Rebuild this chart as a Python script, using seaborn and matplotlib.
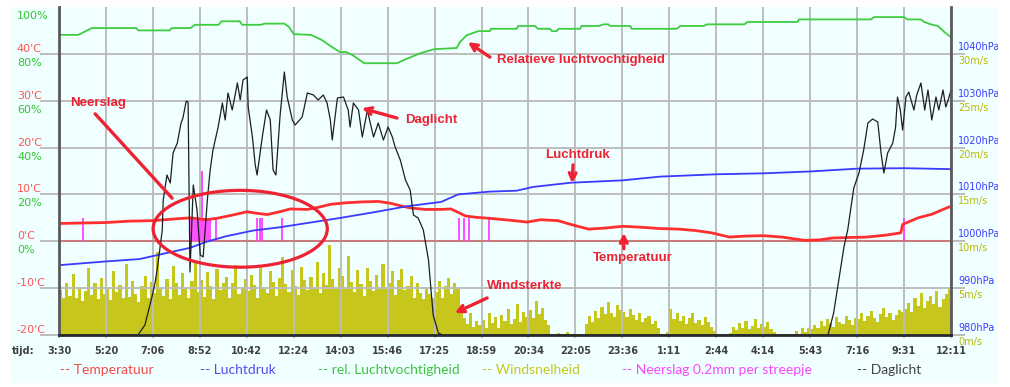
import numpy as np
import matplotlib
matplotlib.use("Agg")
import matplotlib.pyplot as plt
import matplotlib.transforms as mtransforms
from matplotlib.patches import Ellipse, Rectangle
import seaborn as sns

# ---------------- data ----------------
time_labels = ['3:30', '5:20', '7:06', '8:52', '10:42', '12:24', '14:03', '15:46', '17:25', '18:59',
               '20:34', '22:05', '23:36', '1:11', '2:44', '4:14', '5:43', '7:16', '9:31', '12:11']

temp_t = [0, 0.5, 1.0, 1.5, 2.0, 2.5, 2.8, 3.14, 3.36, 3.7, 4.0, 4.2, 4.43, 4.7, 4.93, 5.29, 5.5, 5.79,
          6.1, 6.43, 6.8, 7.07, 7.3, 7.5, 7.8, 8.14, 8.35, 8.66, 8.9, 9.17, 9.6, 9.97, 10.26, 10.63,
          10.9, 11.28, 11.6, 12.01, 12.4, 12.82, 13.2, 13.55, 13.9, 14.28, 14.6, 15.0, 15.4, 15.88,
          16.2, 16.47, 16.8, 17.2, 17.6, 17.93, 17.97, 18.3, 18.6, 18.95, 19.0]
temp_c = [3.8, 3.9, 4.0, 4.3, 4.4, 4.8, 5.0, 4.6, 4.9, 5.6, 6.3, 6.0, 5.7, 6.3, 6.9, 6.8, 7.2, 7.9,
          8.2, 8.4, 8.5, 8.1, 7.5, 7.1, 6.8, 6.8, 6.9, 5.4, 5.1, 4.9, 4.5, 4.1, 4.6, 4.4,
          3.6, 2.6, 2.8, 3.2, 3.0, 2.7, 2.6, 2.3, 1.8, 0.9, 1.1, 1.2, 0.9, 0.2,
          0.3, 0.7, 0.8, 0.9, 1.3, 1.8, 3.6, 5.0, 5.8, 7.3, 7.4]

pres_t = [0, 1, 1.71, 2.79, 3.14, 3.57, 4.14, 4.71, 5.29, 6.0, 6.71, 7.43, 8.14, 8.5, 9.17, 9.75,
          10.1, 10.9, 12.0, 12.8, 14.0, 15.0, 16.0, 17.0, 18.0, 19.0]
pres_hpa = [994.9, 995.7, 996.2, 998.6, 999.9, 1001.1, 1002.3, 1003.0, 1003.9, 1005.0, 1006.2,
            1007.5, 1008.4, 1010.0, 1010.6, 1010.8, 1011.6, 1012.5, 1013.0, 1013.8, 1014.3,
            1014.5, 1014.9, 1015.5, 1015.6, 1015.4]

hum_t = [0, 0.41, 0.55, 0.7, 1.65, 1.69, 2.36, 2.4, 2.8, 2.9, 3.4, 3.46, 3.85, 3.9, 4.3, 4.38,
         4.8, 4.9, 5.0, 5.37, 5.59, 5.8, 6.0, 6.1, 6.25, 6.5, 7.2, 7.43, 7.7, 8.0, 8.47, 8.54,
         8.68, 8.82, 8.93, 9.18, 9.2, 9.75, 9.78, 10.14, 10.2, 10.46, 10.5, 10.6, 10.64, 11.1,
         11.13, 11.5, 11.6, 11.7, 11.74, 12.17, 12.2, 13.16, 13.23, 13.73, 13.8, 14.6, 14.66,
         15.73, 15.76, 17.3, 17.36, 18.0, 18.07, 18.36, 18.43, 18.57, 18.72, 18.86, 19.0]
hum_pct = [88.1, 88.1, 89.5, 91.0, 91.0, 90.0, 90.0, 91.0, 91.0, 92.4, 92.4, 93.9, 93.9, 92.4,
           92.4, 92.9, 92.9, 91.5, 88.4, 88.1, 86.0, 83.1, 80.6, 80.9, 79.5, 76.0, 76.0, 78.1,
           80.3, 82.0, 82.5, 85.0, 87.9, 88.9, 89.7, 89.7, 90.7, 90.7, 91.9, 91.9, 90.7, 90.7,
           89.7, 89.7, 90.7, 90.7, 91.9, 91.9, 92.6, 92.6, 91.9, 91.9, 90.7, 90.7, 91.9, 91.9,
           92.6, 92.6, 93.6, 93.6, 94.7, 94.7, 95.7, 95.7, 94.7, 94.7, 93.6, 92.6, 91.9, 89.3, 87.1]

day_t = [0, 1.68, 1.83, 1.98, 2.05, 2.11, 2.20, 2.22, 2.30, 2.37, 2.43, 2.52, 2.60, 2.64, 2.71,
         2.75, 2.79, 2.86, 2.94, 3.01, 3.07, 3.16, 3.22, 3.28, 3.39, 3.48, 3.54, 3.60, 3.69, 3.80,
         3.86, 3.92, 4.01, 4.03, 4.12, 4.18, 4.22, 4.33, 4.42, 4.50, 4.56, 4.62, 4.71, 4.80, 4.86,
         4.97, 5.03, 5.18, 5.29, 5.42, 5.52, 5.63, 5.71, 5.78, 5.82, 5.93, 6.06, 6.16, 6.20, 6.27,
         6.38, 6.46, 6.57, 6.63, 6.70, 6.80, 6.91, 7.01, 7.10, 7.16, 7.27, 7.38, 7.48, 7.55, 7.65,
         7.76, 7.87, 7.97, 8.08, 8.17, 16.38, 16.50, 16.61, 16.72, 16.80, 16.87, 16.93, 17.04,
         17.14, 17.23, 17.33, 17.44, 17.51, 17.57, 17.65, 17.76, 17.82, 17.86, 17.92, 17.97,
         18.04, 18.10, 18.21, 18.27, 18.36, 18.44, 18.51, 18.59, 18.68, 18.74, 18.83, 18.89,
         18.96, 19.0]
day_val = [0, 0, 10, 38, 53, 72, 105, 135, 160, 152, 182, 192, 212, 217, 234,
           233, 63, 150, 125, 80, 78, 135, 165, 185, 208, 232, 215, 242, 225, 252,
           235, 255, 258, 228, 198, 170, 160, 198, 225, 215, 165, 160, 220, 263, 238,
           215, 210, 218, 242, 240, 235, 240, 232, 215, 195, 237, 238, 225, 208, 232,
           225, 198, 225, 212, 198, 212, 195, 208, 198, 188, 175, 155, 145, 120, 117,
           105, 75, 20, 2, 0, 0, 22, 55, 88, 105, 128, 147, 162,
           185, 212, 216, 213, 182, 162, 182, 192, 208, 238, 225, 205,
           238, 243, 225, 240, 252, 225, 245, 215, 238, 225, 245, 228,
           238, 245]

wind_ms = [
    4.8, 3.9, 5.6, 4.2, 6.5, 4.0, 5.1, 3.6, 4.7, 7.2, 4.3, 5.5, 3.8, 6.1, 4.4,
    5.0, 3.7, 6.8, 4.6, 5.3, 3.9, 7.6, 4.1, 5.8, 4.4, 3.5, 5.2, 6.3, 4.0, 5.7,
    4.5, 8.9, 5.1, 4.2, 6.0, 3.8, 7.4, 5.5, 4.3, 6.6, 5.0, 3.9, 5.8, 7.9, 4.6,
    5.9, 4.1, 6.7, 5.2, 3.8, 7.0, 4.8, 5.5, 6.2, 4.0, 5.6, 7.5, 4.4, 5.1, 6.0,
    4.7, 6.4, 5.3, 3.9, 7.1, 5.0, 4.5, 6.8, 5.7, 4.2, 6.1, 8.3, 5.4, 4.6, 6.9,
    5.2, 4.3, 7.3, 5.9, 4.8, 6.2, 5.0, 7.8, 4.5, 6.6, 5.3, 9.6, 6.0, 4.9, 7.1,
    6.3, 5.1, 8.4, 5.7, 4.6, 6.9, 5.4, 4.2, 7.2, 5.8, 4.7, 6.4, 5.0, 7.6, 4.9,
    5.5, 6.8, 4.3, 5.9, 7.0, 4.8, 5.2, 6.3, 4.0, 5.6, 4.5, 3.8, 5.1, 4.4, 3.9,
    4.6, 5.8, 3.9, 5.2, 6.1, 4.4, 5.5, 5.0, 3.2, 1.8, 1.2, 2.3, 0.9, 1.5, 1.1,
    1.6, 0.8, 2.4, 1.3, 1.9, 0.7, 2.1, 1.5, 2.8, 1.2, 1.7, 3.3, 1.4, 2.5, 1.9,
    2.7, 1.8, 3.6, 2.2, 2.9, 1.6, 1.1, 0.0, 0.0, 0.2, 0.0, 0.0, 0.3, 0.0, 0.0,
    0.0, 0.0, 0.0, 1.2, 2.0, 1.4, 2.6, 1.8, 3.0, 2.2, 3.5, 2.4, 1.9, 3.2, 2.7,
    2.5, 1.9, 2.8, 2.1, 1.6, 2.3, 1.4, 1.8, 2.0, 1.2, 1.5, 0.8, 0.0, 0.0, 0.3,
    2.8, 1.7, 2.3, 1.5, 2.0, 1.2, 1.8, 2.4, 1.3, 1.6, 1.1, 1.9, 1.4, 0.9, 0.4,
    0.0, 0.0, 0.0, 0.0, 0.2, 0.9, 0.5, 1.3, 0.7, 1.5, 0.6, 1.0, 1.7, 0.8, 1.2,
    0.9, 1.4, 0.6, 0.3, 0.0, 0.0, 0.0, 0.0, 0.0, 0.0, 0.4, 0.0, 0.7, 0.3, 0.8,
    0.6, 1.1, 0.8, 1.5, 1.0, 1.7, 1.3, 0.9, 1.9, 1.4, 1.2, 2.0, 1.6, 1.1, 1.8,
    1.7, 2.3, 1.5, 2.0, 2.6, 1.8, 1.4, 2.2, 2.9, 1.9, 2.4, 1.6, 2.1, 2.7, 2.5,
    2.8, 3.4, 2.5, 3.9, 3.1, 4.5, 2.9, 3.6, 4.2, 3.3, 4.7, 3.0, 3.8, 4.4, 5.1,
]

rain_t = [0.51, 2.79, 2.84, 2.88, 2.92, 2.97, 3.01, 3.05, 3.09, 3.14, 3.18, 3.22, 3.35,
          4.22, 4.28, 4.33, 4.75, 8.51, 8.62, 8.73, 9.15, 18.0]
rain_n = [1, 1, 1, 1, 1, 1, 1, 3, 1, 1, 1, 1, 1, 1, 1, 1, 1, 1, 1, 1, 1, 1]

temp_ticks = [-20, -10, 0, 10, 20, 30, 40]
hum_ticks = [0, 20, 40, 60, 80, 100]
pres_ticks = [980, 990, 1000, 1010, 1020, 1030, 1040]
wind_ticks = [0, 5, 10, 15, 20, 25, 30]

legend_items = [("-- Temperatuur", "#f24a4a"), ("-- Luchtdruk", "#4f4ff0"),
                ("-- rel. Luchtvochtigheid", "#3fc43f"), ("-- Windsnelheid", "#c6c620"),
                ("-- Neerslag 0.2mm per streepje", "#ff44ff"), ("-- Daglicht", "#444444")]

# ---------------- style ----------------
W, H, DPI = 1010, 387, 100
BG = "#f0ffff"
GRID = "#bdbdbd"
ANN = "#ee2233"
plt.rcParams["font.family"] = ["DejaVu Sans"]

fig = plt.figure(figsize=(W / DPI, H / DPI), dpi=DPI, facecolor="white")
panel = Rectangle((11 / W, 1 - 383 / H), (998 - 11) / W, (383 - 7) / H,
                  transform=fig.transFigure, facecolor=BG, edgecolor="none", zorder=-10)
fig.patches.append(panel)

rect = [59 / W, 1 - 335 / H, (951 - 59) / W, (335 - 7) / H]
ax_w = fig.add_axes(rect)
ax_w.set_facecolor(BG)
ax_t = ax_w.twinx()
ax_p = ax_w.twinx()
ax_h = ax_w.twinx()
ax_d = ax_w.twinx()
ax_a = ax_w.twinx()
for z, a in enumerate([ax_w, ax_t, ax_p, ax_h, ax_d, ax_a]):
    a.set_zorder(z)
    for s in a.spines.values():
        s.set_visible(False)

ax_w.set_xlim(0, 19)
ax_w.set_ylim(0, 35)
ax_t.set_ylim(-20, 50)
ax_p.set_ylim(980, 1050)
ax_h.set_ylim(-40, 100)
ax_d.set_ylim(0, 328)
ax_a.set_ylim(-20, 50)

# wind bars
step = 19 / len(wind_ms)
ax_w.bar(np.arange(len(wind_ms)) * step, wind_ms, width=step, align="edge",
         color="#c6c61c", linewidth=0)

# grid
ax_w.set_axisbelow(False)
ax_w.set_xticks(range(20))
ax_w.set_xticklabels(time_labels, fontweight="bold")
ax_w.grid(True, axis="x", color=GRID, lw=1.4)
ax_w.tick_params(axis="x", length=2.5, width=1.4, color=GRID, pad=5.5, labelsize=7,
                 labelcolor="#404040")
ax_t.set_yticks(temp_ticks)
ax_t.set_yticklabels([f"{v}'C" if False else f"{v}\u2019C".replace("\u2019", "'") for v in temp_ticks])
ax_t.grid(True, axis="y", color=GRID, lw=1.4)
ax_t.axhline(0, color="#c97c7c", lw=1.5, zorder=2)

# temperature + rain
ax_t.vlines(rain_t, 0, np.array(rain_n) * 5, color="#ff40ff", lw=1.3, zorder=3)
sns.lineplot(x=temp_t, y=temp_c, ax=ax_t, color="#ff2f2f", lw=2.0, estimator=None, sort=False, zorder=4)
sns.lineplot(x=pres_t, y=pres_hpa, ax=ax_p, color="#3a3aff", lw=1.3, estimator=None, sort=False)
sns.lineplot(x=hum_t, y=hum_pct, ax=ax_h, color="#40cc40", lw=1.3, estimator=None, sort=False)
sns.lineplot(x=day_t, y=day_val, ax=ax_d, color="#1e1e1e", lw=0.9, estimator=None, sort=False)
for a in [ax_w, ax_t, ax_p, ax_h, ax_d, ax_a]:
    a.set_xlabel("")
    a.set_ylabel("")
ax_w.set_xlim(0, 19)

# y tick setup
def shift_labels(ax, dy_px, ha=None, clip=False):
    for lab in ax.get_yticklabels():
        lab.set_transform(lab.get_transform() +
                          mtransforms.ScaledTranslation(0, dy_px / DPI, fig.dpi_scale_trans))
        if ha:
            lab.set_ha(ha)
        if clip:
            lab.set_clip_path(panel)
            lab.set_clip_on(True)

ax_t.yaxis.tick_left()
ax_t.tick_params(axis="y", left=True, right=False, labelleft=True, labelright=False,
                 length=13.7, width=1.4, color=GRID, pad=16.6, labelsize=8, labelcolor="#ff5555")
shift_labels(ax_t, 6, ha="left")

ax_h.yaxis.tick_left()
ax_h.set_yticks(hum_ticks)
ax_h.set_yticklabels([f"{v}%" for v in hum_ticks])
ax_h.tick_params(axis="y", left=True, right=False, labelleft=True, labelright=False,
                 length=0, pad=30.2, labelsize=8, labelcolor="#33c433")
shift_labels(ax_h, -8, ha="left")

ax_p.yaxis.tick_right()
ax_p.set_yticks(pres_ticks)
ax_p.set_yticklabels([f"{v}hPa" for v in pres_ticks])
ax_p.tick_params(axis="y", left=False, right=True, labelleft=False, labelright=True,
                 length=10, width=1.4, color=GRID, pad=-5, labelsize=7, labelcolor="#3c3cff")
shift_labels(ax_p, 8, clip=True)

ax_w.yaxis.tick_right()
ax_w.set_yticks(wind_ticks)
ax_w.set_yticklabels([f"{v}m/s" for v in wind_ticks])
ax_w.tick_params(axis="y", left=False, right=True, labelleft=False, labelright=True,
                 length=0, pad=5, labelsize=7, labelcolor="#b9b900")
shift_labels(ax_w, -6, clip=True)

for a in [ax_d, ax_a]:
    a.set_yticks([])

# frame on top axes
for side, col in [("left", "#5a5a5a"), ("right", "#5a5a5a"), ("bottom", "#2a2a2a")]:
    ax_a.spines[side].set_visible(True)
    ax_a.spines[side].set_color(col)
    ax_a.spines[side].set_linewidth(2)

# annotations
afont = dict(fontfamily="Liberation Sans", fontweight="bold", fontsize=9.5, color=ANN)
arrow = dict(arrowstyle="->", color=ANN, lw=2.4, mutation_scale=12, shrinkA=0, shrinkB=0)
ax_a.text(0.23, 29.5, "Neerslag", va="center", ha="left", **afont)
ax_a.annotate("", xy=(2.41, 9.2), xytext=(0.77, 27.2),
              arrowprops=dict(arrowstyle="-", color=ANN, lw=2.4, shrinkA=0, shrinkB=0))
ax_a.add_patch(Ellipse((3.86, 2.67), 3.71, 16.4, fill=False, edgecolor=ANN, lw=2.3))
ax_a.text(7.37, 25.9, "Daglicht", va="center", ha="left", **afont)
ax_a.annotate("", xy=(6.45, 28.4), xytext=(7.2, 26.3), arrowprops=arrow)
ax_a.text(10.35, 18.4, "Luchtdruk", va="center", ha="left", **afont)
ax_a.annotate("", xy=(10.93, 12.4), xytext=(10.95, 16.3), arrowprops=arrow)
ax_a.text(9.33, 38.7, "Relatieve luchtvochtigheid", va="center", ha="left", **afont)
ax_a.annotate("", xy=(8.71, 42.5), xytext=(9.18, 39.3), arrowprops=arrow)
ax_a.text(11.37, -3.6, "Temperatuur", va="center", ha="left", **afont)
ax_a.annotate("", xy=(12.03, 1.8), xytext=(12.03, -1.6), arrowprops=arrow)
ax_a.text(9.12, -9.5, "Windsterkte", va="center", ha="left", **afont)
ax_a.annotate("", xy=(8.43, -15.3), xytext=(9.12, -12.1), arrowprops=arrow)

# bottom texts
fig.text(12 / W, 1 - 351 / H, "tijd:", fontsize=7, fontweight="bold", color="#404040", va="center")
leg_x = [60, 200, 318, 482, 622, 857]
for (txt, col), x in zip(legend_items, leg_x):
    fig.text(x / W, 1 - 370 / H, txt, color=col, fontsize=10, fontfamily="Lato", va="center")

fig.savefig("out.png", dpi=DPI, facecolor="white")
